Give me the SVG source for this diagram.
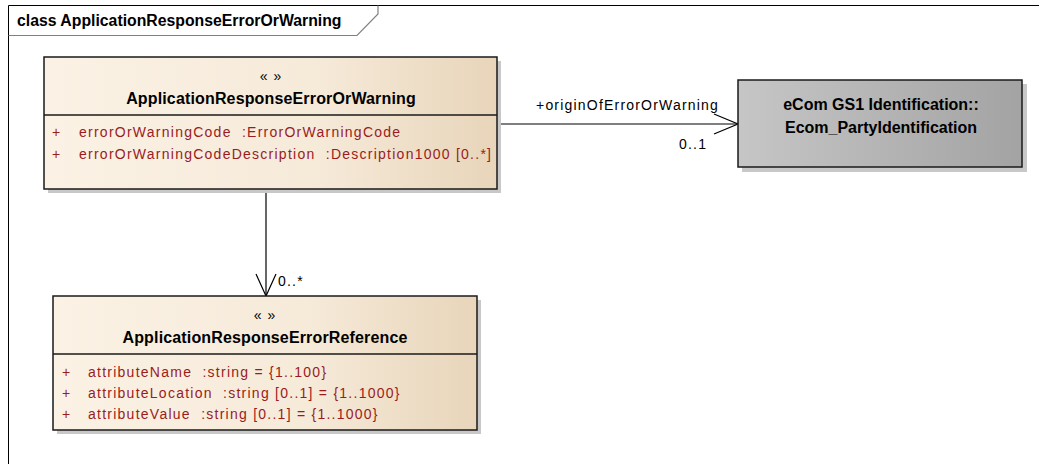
<svg xmlns="http://www.w3.org/2000/svg" width="1039" height="464" viewBox="0 0 1039 464">
<defs>
<linearGradient id="cls" x1="0" y1="0" x2="1" y2="0">
<stop offset="0" stop-color="#FBF2E5"/>
<stop offset="0.6" stop-color="#F6EAD9"/>
<stop offset="1" stop-color="#E8D5BA"/>
</linearGradient>
<linearGradient id="ext" x1="0" y1="0" x2="1" y2="0">
<stop offset="0" stop-color="#C6C6C6"/>
<stop offset="1" stop-color="#A3A3A3"/>
</linearGradient>
</defs>
<style>
.t{font-family:"Liberation Sans",Arial,sans-serif;}
.b{font-weight:bold;}
.box{stroke:#1a1a1a;stroke-width:1.5;}
.sh{fill:#c8c8c8;}
.attr{font-size:14px;fill:#9A1C1C;letter-spacing:1.25px;}
.ster{font-size:14px;fill:#000;text-anchor:middle;letter-spacing:1px;}
.name{font-size:16px;fill:#000;text-anchor:middle;font-weight:bold;letter-spacing:0.15px;}
.ename{font-size:16px;fill:#000;text-anchor:middle;font-weight:bold;}
.lbl{font-size:14px;fill:#000;letter-spacing:1.2px;}
.conn{stroke:#000;stroke-width:1.2;fill:none;}
</style>
<rect width="1039" height="464" fill="#fff"/>
<g id="frame">
<path d="M8.5 464 V5.5 H1039" fill="none" stroke="#000" stroke-width="1"/>
<path d="M8.5 35.5 H357 L378 14 V5.5" fill="none" stroke="#808080" stroke-width="1.2"/>
<text class="t b" x="17" y="26" font-size="15.8">class ApplicationResponseErrorOrWarning</text>
</g>
<g id="connectors">
<path class="conn" d="M497 124 H738"/>
<path class="conn" d="M714 114 L738 124 L714 134"/>
<text class="t lbl" x="536" y="110">+originOfErrorOrWarning</text>
<text class="t lbl" x="679" y="149">0..1</text>
<path class="conn" d="M266 189 V296"/>
<path class="conn" d="M256 274 L266 296 L276 274"/>
<text class="t lbl" x="278" y="286">0..*</text>
</g>
<g id="ApplicationResponseErrorOrWarning">
<rect class="sh" x="48" y="61" width="453" height="132"/>
<rect class="box" x="44" y="57" width="453" height="132" fill="url(#cls)"/>
<line class="box" x1="44" y1="115" x2="497" y2="115"/>
<text class="t ster" x="271" y="81">« »</text>
<text class="t name" x="271" y="104">ApplicationResponseErrorOrWarning</text>
<text class="t attr" x="52" y="137">+</text>
<text class="t attr" x="79" y="137" xml:space="preserve">errorOrWarningCode  :ErrorOrWarningCode</text>
<text class="t attr" x="52" y="159">+</text>
<text class="t attr" x="79" y="159" xml:space="preserve">errorOrWarningCodeDescription  :Description1000 [0..*]</text>
</g>
<g id="Ecom_PartyIdentification">
<rect class="sh" x="742" y="84" width="285" height="88"/>
<rect class="box" x="738" y="80" width="284" height="87" fill="url(#ext)"/>
<text class="t ename" x="881" y="110">eCom GS1 Identification::</text>
<text class="t ename" x="881" y="133">Ecom_PartyIdentification</text>
</g>
<g id="ApplicationResponseErrorReference">
<rect class="sh" x="57" y="300" width="424" height="134"/>
<rect class="box" x="53" y="296" width="424" height="134" fill="url(#cls)"/>
<line class="box" x1="53" y1="354" x2="477" y2="354"/>
<text class="t ster" x="265" y="320">« »</text>
<text class="t name" x="265" y="343">ApplicationResponseErrorReference</text>
<text class="t attr" x="62" y="377">+</text>
<text class="t attr" x="88" y="377" xml:space="preserve">attributeName  :string = {1..100}</text>
<text class="t attr" x="62" y="398">+</text>
<text class="t attr" x="88" y="398" xml:space="preserve">attributeLocation  :string [0..1] = {1..1000}</text>
<text class="t attr" x="62" y="419">+</text>
<text class="t attr" x="88" y="419" xml:space="preserve">attributeValue  :string [0..1] = {1..1000}</text>
</g>
</svg>
